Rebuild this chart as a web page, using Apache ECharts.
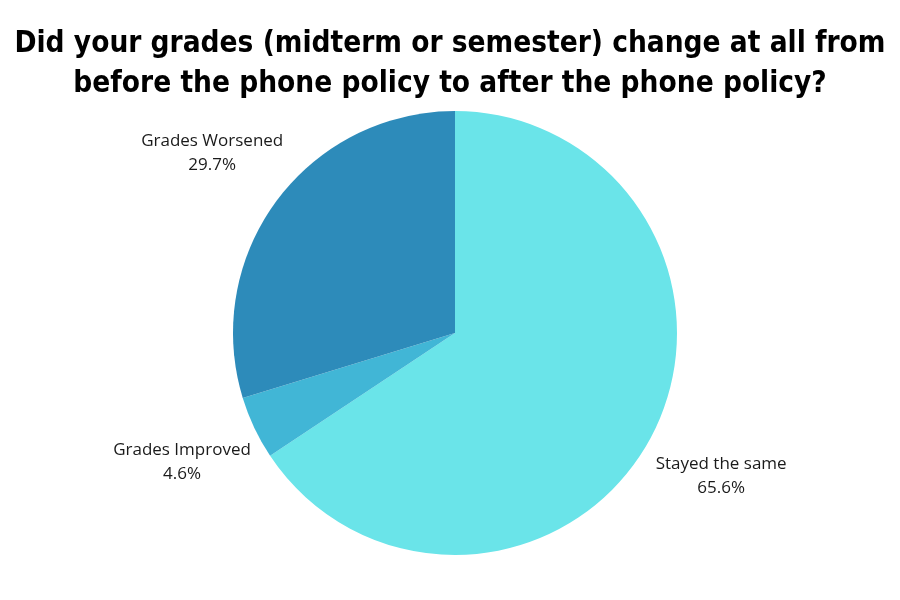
<!DOCTYPE html>
<html>
<head>
<meta charset="utf-8">
<script src="https://cdn.jsdelivr.net/npm/echarts@6/dist/echarts.min.js"></script>
<style>html,body{margin:0;padding:0;background:#fff}#main{width:900px;height:600px}</style>
</head>
<body>
<div id="main"></div>
<script>
const titleLines = ["Did your grades (midterm or semester) change at all from", "before the phone policy to after the phone policy?"];
const categories = ["Stayed the same", "Grades Improved", "Grades Worsened"];
const values = [65.6, 4.6, 29.7];
const colors = ["#6AE4E9", "#41B6D6", "#2D8BBA"];

const chart = echarts.init(document.getElementById('main'));
const data = categories.map((c, i) => ({ name: c, value: values[i], itemStyle: { color: colors[i] } }));
chart.setOption({
  animation: false,
  title: {
    text: titleLines.join('\n'),
    left: 'center',
    top: 19,
    textStyle: { fontFamily: '"DejaVu Sans Condensed", "Roboto Condensed", Roboto, sans-serif', fontWeight: 'bold', fontSize: 29.5, lineHeight: 40, color: '#000' }
  },
  series: [
    {
      type: 'pie',
      center: [455, 333],
      radius: [0, 222],
      startAngle: 90,
      clockwise: true,
      silent: true,
      label: { show: false },
      labelLine: { show: false },
      data: data
    },
    {
      type: 'pie',
      center: [455, 333],
      radius: [280, 318],
      startAngle: 90,
      clockwise: true,
      silent: true,
      itemStyle: { color: 'rgba(0,0,0,0)' },
      label: {
        show: true,
        position: 'inside',
        formatter: p => p.name + '\n' + p.value.toFixed(1) + '%',
        color: '#1a1a1a',
        fontFamily: 'Open Sans',
        fontSize: 17,
        lineHeight: 24,
        align: 'center'
      },
      labelLine: { show: false },
      data: categories.map((c, i) => ({ name: c, value: values[i] }))
    }
  ]
});
</script>
</body>
</html>
